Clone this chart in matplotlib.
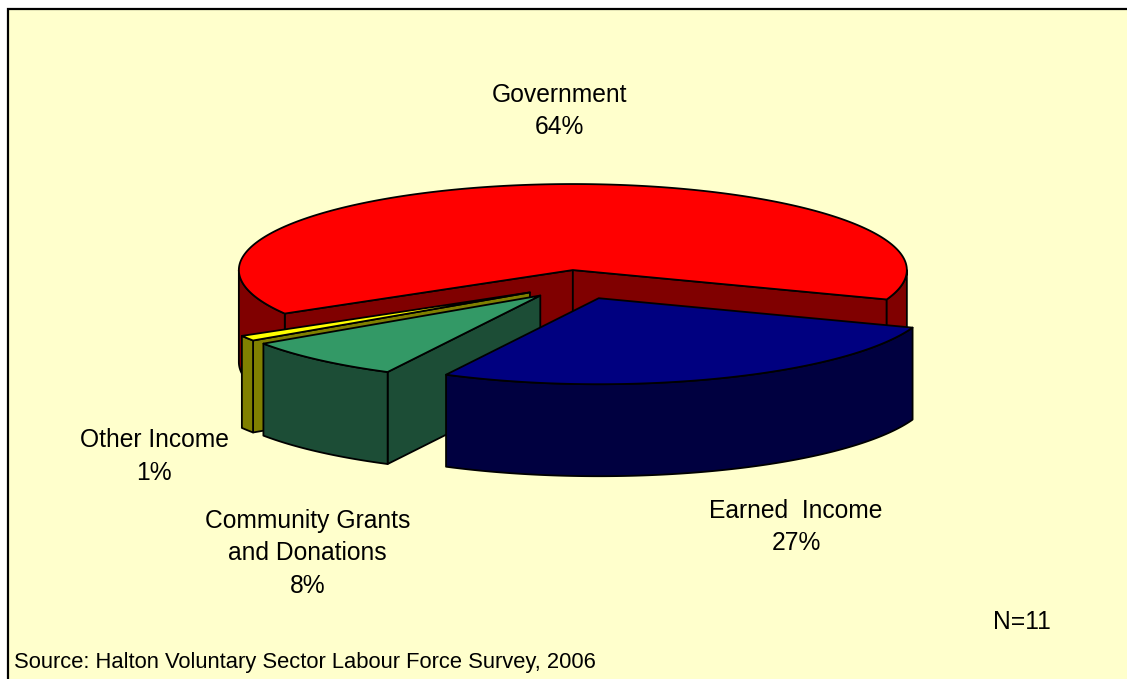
import numpy as np
import matplotlib
matplotlib.use("Agg")
import matplotlib.pyplot as plt
from matplotlib.patches import Polygon, Rectangle

# ---- data -------------------------------------------------------------
categories = ["Government", "Earned  Income", "Community Grants\nand Donations", "Other Income"]
values = [64, 27, 8, 1]
top_colors = ["#FF0000", "#000080", "#339966", "#FFFF00"]
side_colors = ["#800000", "#000040", "#1C4D36", "#808000"]
source_note = "Source: Halton Voluntary Sector Labour Force Survey, 2006"
sample_note = "N=11"

# ---- layout of the 3-D pie (pixel-like coordinates, y grows downward) ---
W, H = 1127, 679
CX, CY = 578.0, 284.6      # pie centre
A, B = 334.0, 86.0         # ellipse semi-axes of the top face
DEPTH = 92.0               # thickness of the pie
EXPLODE = 0.17             # fraction of radius each slice is pulled out
END_ANGLE = 20.0           # where the first slice ends (degrees, clockwise on screen)

# label anchors (centre x, baseline of first line), line step
label_pos = {
    "Government": (559.5, 102),
    "Earned  Income": (796, 518),
    "Community Grants\nand Donations": (307.5, 528),
    "Other Income": (154, 447),
}
LINE_STEP = 32.5

fig = plt.figure(figsize=(W / 100, H / 100), dpi=100, facecolor="white")
ax = fig.add_axes([0, 0, 1, 1])
ax.set_xlim(0, W)
ax.set_ylim(H, 0)
ax.axis("off")

ax.add_patch(Rectangle((8, 9), W + 10, H + 10, facecolor="#FFFFCC",
                       edgecolor="black", linewidth=1.6, zorder=0))

LW = 1.3


def rim(ox, oy, t, dz=0.0):
    r = np.radians(t)
    return ox + A * np.cos(r), oy + B * np.sin(r) + dz


def arc(ox, oy, t1, t2, dz=0.0, n=None):
    n = n or max(4, int(abs(t2 - t1) * 1.5))
    ts = np.linspace(t1, t2, n)
    r = np.radians(ts)
    return np.column_stack([ox + A * np.cos(r), oy + B * np.sin(r) + dz])


def front_ranges(t1, t2):
    out = []
    for k in range(-1, 3):
        lo, hi = 360 * k, 360 * k + 180
        a, b = max(t1, lo), min(t2, hi)
        if b > a:
            out.append((a, b))
    return out


# slice angles: first slice ends at END_ANGLE, slices go clockwise on screen
total = float(sum(values))
sweeps = [v / total * 360.0 for v in values]
start0 = END_ANGLE + 360.0 - sweeps[0]
slices = []
s = start0
for i, sw in enumerate(sweeps):
    t1, t2 = s, s + sw
    mid = 0.5 * (t1 + t2)
    ox = CX + EXPLODE * A * np.cos(np.radians(mid))
    oy = CY + EXPLODE * B * np.sin(np.radians(mid))
    slices.append(dict(i=i, t1=t1, t2=t2, mid=mid, ox=ox, oy=oy))
    s = t2

# back-to-front drawing order
slices.sort(key=lambda d: np.sin(np.radians(d["mid"])))

z = 1
for d in slices:
    i, t1, t2, ox, oy = d["i"], d["t1"], d["t2"], d["ox"], d["oy"]
    sc, tc = side_colors[i], top_colors[i]
    faces = []
    # radial face at the start angle
    if np.cos(np.radians(t1)) < 0:
        x, y = rim(ox, oy, t1)
        faces.append([(ox, oy), (x, y), (x, y + DEPTH), (ox, oy + DEPTH)])
    # radial face at the end angle
    if np.cos(np.radians(t2)) > 0:
        x, y = rim(ox, oy, t2)
        faces.append([(ox, oy), (x, y), (x, y + DEPTH), (ox, oy + DEPTH)])
    for f in faces:
        ax.add_patch(Polygon(f, closed=True, facecolor=sc, edgecolor="black",
                             linewidth=LW, joinstyle="round", zorder=z))
    # curved outer wall (front-facing parts only)
    for a, b in front_ranges(t1, t2):
        top = arc(ox, oy, a, b)
        bot = arc(ox, oy, a, b, DEPTH)[::-1]
        ax.add_patch(Polygon(np.vstack([top, bot]), closed=True, facecolor=sc,
                             edgecolor="black", linewidth=LW, joinstyle="round", zorder=z))
    # top face
    pts = np.vstack([[ox, oy], arc(ox, oy, t1, t2)])
    ax.add_patch(Polygon(pts, closed=True, facecolor=tc, edgecolor="black",
                         linewidth=LW, joinstyle="round", zorder=z + 0.5))
    z += 1

# ---- labels ------------------------------------------------------------
FONT = "Liberation Sans"
for cat, val in zip(categories, values):
    x, y0 = label_pos[cat]
    lines = cat.split("\n") + [f"{val}%"]
    for k, line in enumerate(lines):
        ax.text(x, y0 + k * LINE_STEP, line, ha="center", va="baseline",
                fontsize=17.7, family=FONT, color="black", zorder=20)

ax.text(1022, 629, sample_note, ha="center", va="baseline",
        fontsize=17.7, family=FONT, zorder=20)
ax.text(14, 668, source_note, ha="left", va="baseline",
        fontsize=15.8, family=FONT, zorder=20)

fig.savefig("out.png", dpi=100, facecolor=fig.get_facecolor())
